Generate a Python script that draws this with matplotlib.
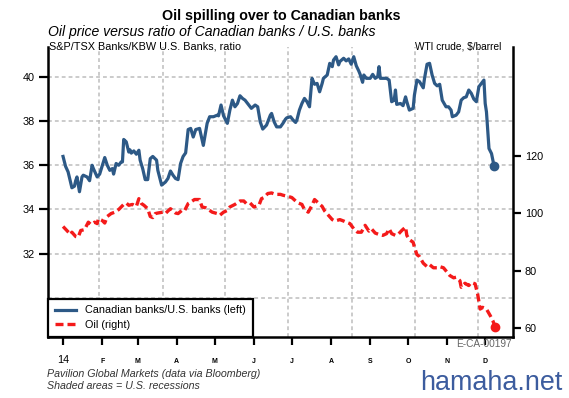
import numpy as np
import pandas as pd
import matplotlib
matplotlib.use("Agg")
import matplotlib.pyplot as plt
import matplotlib.dates as mdates

plt.rcParams['font.family'] = ['Liberation Sans', 'DejaVu Sans']

# data: day offset from 2014-01-01 and value
blue_day = [0, 2, 4, 7, 9, 10, 11, 13, 15, 16,
            19, 21, 23, 24, 27, 29, 32, 33, 35, 37,
            39, 40, 42, 44, 46, 47, 48, 50, 52, 53,
            54, 56, 58, 60, 61, 63, 65, 67, 69, 71,
            74, 75, 77, 78, 81, 83, 85, 87, 89, 91,
            93, 95, 97, 99, 101, 103, 105, 108, 111, 114,
            116, 119, 122, 123, 125, 127, 130, 132, 134, 136,
            138, 140, 142, 144, 147, 149, 152, 154, 156, 158,
            161, 164, 165, 167, 169, 172, 174, 176, 177, 180,
            182, 184, 185, 187, 189, 191, 193, 195, 197, 199,
            201, 203, 205, 206, 209, 211, 213, 214, 216, 218,
            219, 222, 224, 226, 228, 230, 232, 234, 235, 237,
            238, 240, 243, 245, 247, 249, 250, 251, 253, 256,
            258, 260, 262, 263, 264, 267, 269, 271, 272, 274,
            277, 278, 280, 282, 285, 286, 288, 290, 292, 294,
            296, 298, 300, 303, 305, 307, 308, 311, 313, 315,
            317, 319, 321, 323, 325, 327, 329, 331, 333, 334,
            335, 337, 339, 341]
blue_val = [36.4, 35.95, 35.7, 34.98, 35.05, 35.3, 35.47, 34.8, 35.47, 35.55,
            35.47, 35.3, 36.0, 35.85, 35.47, 35.6, 36.15, 36.35, 36.0, 35.77,
            35.85, 35.6, 36.08, 36.0, 36.15, 36.15, 37.17, 37.06, 36.6, 36.7,
            36.55, 36.65, 36.5, 36.68, 36.23, 35.85, 35.35, 35.35, 36.3, 36.4,
            36.23, 35.77, 35.32, 35.1, 35.24, 35.4, 35.74, 35.55, 35.4, 35.35,
            36.08, 36.4, 36.56, 37.62, 37.67, 37.28, 37.62, 37.67, 36.9, 37.9,
            38.2, 38.2, 38.27, 38.24, 38.73, 38.24, 37.9, 38.5, 38.95, 38.65,
            38.8, 39.15, 39.03, 38.95, 38.73, 38.58, 38.73, 38.65, 37.97, 37.64,
            37.82, 38.27, 38.35, 37.97, 37.74, 37.74, 37.9, 38.09, 38.15, 38.2,
            38.05, 37.94, 38.05, 38.5, 38.8, 39.03, 38.88, 38.65, 39.94, 39.67,
            39.71, 39.33, 39.71, 39.94, 40.09, 40.62, 40.47, 40.77, 40.92, 40.55,
            40.7, 40.85, 40.73, 40.82, 40.58, 40.92, 40.51, 40.27, 40.13, 39.76,
            40.09, 39.94, 39.94, 40.12, 39.94, 40.02, 40.47, 39.94, 39.94, 39.94,
            39.86, 38.88, 38.95, 39.41, 38.76, 38.8, 38.7, 39.1, 38.88, 38.5,
            38.58, 39.18, 39.86, 39.79, 39.51, 39.94, 40.58, 40.62, 40.09, 39.71,
            39.6, 39.67, 38.95, 38.65, 38.65, 38.5, 38.2, 38.27, 38.42, 38.95,
            39.06, 39.1, 39.41, 39.26, 39.0, 38.88, 39.56, 39.71, 39.86, 38.8,
            38.42, 36.76, 36.53, 35.97]

red_day = [0, 3, 6, 7, 10, 12, 14, 17, 20, 22,
           25, 27, 28, 31, 33, 35, 38, 41, 44, 48,
           50, 52, 55, 58, 60, 62, 64, 67, 69, 71,
           73, 75, 79, 81, 83, 85, 89, 91, 94, 96,
           99, 101, 104, 108, 110, 113, 116, 118, 122, 124,
           127, 130, 132, 136, 140, 143, 145, 148, 151, 155,
           157, 159, 162, 165, 168, 172, 174, 178, 181, 184,
           186, 189, 191, 194, 197, 199, 202, 205, 207, 210,
           213, 215, 219, 222, 224, 227, 230, 233, 236, 239,
           242, 244, 247, 250, 253, 256, 258, 260, 263, 265,
           268, 271, 272, 274, 277, 278, 280, 282, 285, 288,
           290, 293, 296, 298, 301, 304, 306, 309, 311, 314,
           315, 318, 321, 323, 326, 328, 330, 332, 335, 338,
           340, 342]
red_val = [95.4, 94.0, 92.6, 93.4, 91.9, 91.7, 94.0, 94.3, 96.9, 96.1,
           96.9, 96.4, 98.1, 97.5, 96.6, 98.9, 99.9, 100.4, 101.3, 103.1,
           103.6, 102.8, 103.1, 102.4, 105.1, 103.4, 102.8, 101.6, 98.9, 98.5,
           99.9, 100.1, 100.4, 99.9, 100.8, 101.6, 100.1, 99.9, 101.0, 100.8,
           103.4, 103.9, 104.8, 104.8, 102.2, 101.9, 101.0, 100.4, 99.9, 99.3,
           100.4, 101.0, 102.2, 103.1, 104.3, 104.3, 103.4, 103.6, 102.2, 102.8,
           105.1, 105.5, 106.9, 107.1, 106.6, 106.6, 106.3, 105.9, 105.5, 104.3,
           103.6, 103.1, 101.3, 100.4, 102.8, 104.8, 103.6, 102.4, 100.8, 99.3,
           97.8, 97.3, 97.8, 97.3, 96.9, 96.4, 94.6, 93.4, 93.4, 95.8,
           93.8, 94.6, 93.1, 92.6, 92.3, 92.9, 94.6, 92.9, 92.3, 92.6,
           94.0, 95.2, 92.3, 90.8, 89.9, 88.2, 85.6, 84.9, 82.6, 81.4,
           82.1, 81.0, 81.0, 81.4, 81.0, 79.4, 78.3, 77.5, 77.7, 76.5,
           74.2, 75.6, 74.8, 75.9, 75.4, 71.9, 66.6, 67.2, 66.6, 64.3,
           62.6, 60.2]

month_labels = ['14', 'F', 'M', 'A', 'M', 'J', 'J', 'A', 'S', 'O', 'N', 'D']
left_ticks = [32, 34, 36, 38, 40]
left_grid = [30, 32, 34, 36, 38, 40]
right_ticks = [60, 80, 100, 120]
vgrid_day = [28.5, 79, 128.5, 178, 228.5, 278.5, 328.5]

blue = '#2D5986'
red = '#F41A1A'
grid_col = '#BDBDBD'

base = mdates.date2num(pd.Timestamp('2014-01-01'))
xb = base + np.array(blue_day)
xr = base + np.array(red_day)
months = mdates.date2num(pd.date_range('2014-01-01', '2014-12-01', freq='MS').to_pydatetime())

fig = plt.figure(figsize=(5.69, 3.98), dpi=100)
ax = fig.add_axes([48 / 569, 1 - 336.7 / 398, 465 / 569, 289.7 / 398])
ax2 = ax.twinx()

ax.set_xlim(base - 11.9, base + 356.0)
ax.set_ylim(28.23, 41.36)
ax2.set_ylim(56.96, 158.0)

# dashed grid
for v in left_grid:
    ax.axhline(v, color=grid_col, lw=1.1, ls=(0, (2.5, 2)), zorder=0)
for d in vgrid_day:
    ax.axvline(base + d, color=grid_col, lw=1.1, ls=(0, (2.5, 2)), zorder=0)

l1, = ax.plot(xb, blue_val, color=blue, lw=2.3, solid_joinstyle='round', zorder=3)
ax.plot(xb[-1], blue_val[-1], 'o', color=blue, ms=6, zorder=4)
l2, = ax2.plot(xr, red_val, color=red, lw=2.4, dashes=(2.4, 1.2), zorder=3)
ax2.plot(xr[-1], red_val[-1], 'o', color=red, ms=6, zorder=4)

# spines and ticks
for a in (ax, ax2):
    a.spines['top'].set_visible(False)
ax.spines['right'].set_visible(False)
ax2.spines['left'].set_visible(False)
ax2.spines['bottom'].set_visible(False)
for s in ('left', 'bottom'):
    ax.spines[s].set_linewidth(1.8)
ax2.spines['right'].set_linewidth(1.8)

ax.set_yticks(left_ticks)
ax.tick_params(axis='y', direction='out', length=6.5, width=1.6, labelsize=7.8, pad=3)
ax.set_xticks(months)
ax.tick_params(axis='x', direction='out', length=6, width=1.6, labelbottom=False)
ax2.set_yticks(right_ticks)
ax2.tick_params(axis='y', direction='out', length=6, width=1.6, labelsize=7.8, pad=2.5)

trans = ax.get_xaxis_transform()
for m, lab in zip(months, month_labels):
    if lab == '14':
        ax.text(m, -0.080, lab, transform=trans, ha='center', va='center', fontsize=7.8)
    else:
        ax.text(m, -0.086, lab, transform=trans, ha='center', va='center',
                fontsize=5, fontweight='bold')

leg = ax2.legend([l1, l2], ['Canadian banks/U.S. banks (left)', 'Oil (right)'],
                 loc='lower left', bbox_to_anchor=(0, 0), borderaxespad=0,
                 fancybox=False, edgecolor='black', framealpha=1, fontsize=7.8,
                 handlelength=1.95, handletextpad=0.9, borderpad=0.6, labelspacing=0.45)
leg.get_frame().set_linewidth(1.6)
leg.set_zorder(10)

# texts
fig.text(281 / 569, 1 - 16.4 / 398, 'Oil spilling over to Canadian banks',
         ha='center', va='center', fontsize=10.3, fontweight='bold')
fig.text(48.5 / 569, 1 - 31.8 / 398, 'Oil price versus ratio of Canadian banks / U.S. banks',
         ha='left', va='center', fontsize=10.1, style='italic')
fig.text(49 / 569, 1 - 46.5 / 398, 'S&P/TSX Banks/KBW U.S. Banks, ratio',
         ha='left', va='center', fontsize=7.8)
fig.text(501 / 569, 1 - 46.5 / 398, r'WTI crude, \$/barrel',
         ha='right', va='center', fontsize=7.3)
fig.text(46.7 / 569, 1 - 374 / 398, 'Pavilion Global Markets (data via Bloomberg)',
         ha='left', va='center', fontsize=7.7, style='italic', color='#333333')
fig.text(46.7 / 569, 1 - 385.7 / 398, 'Shaded areas = U.S. recessions',
         ha='left', va='center', fontsize=7.7, style='italic', color='#333333')
fig.text(512 / 569, 1 - 344 / 398, 'E-CA-00197',
         ha='right', va='center', fontsize=7.3, color='#666666')
fig.text(420 / 569, 1 - 383 / 398, 'hamaha.net',
         ha='left', va='center', fontsize=19.4, color='#3C5C9E')

fig.savefig('out.png', dpi=100)
